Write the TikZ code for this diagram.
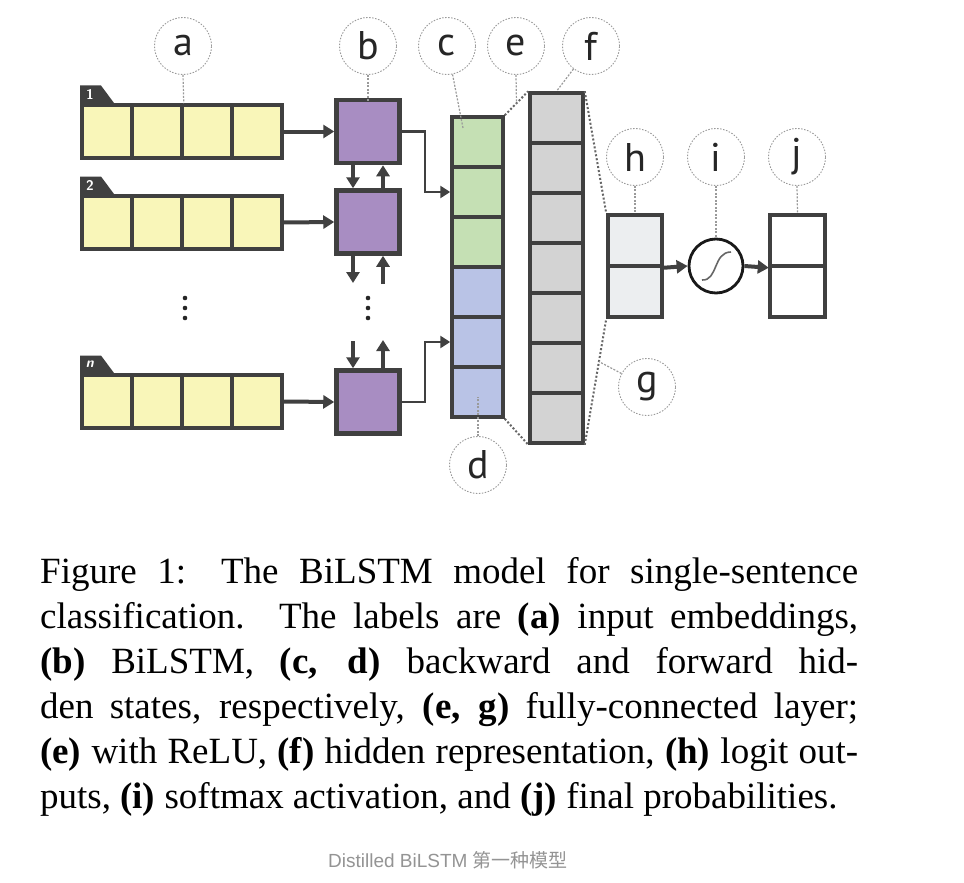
\documentclass[tikz,border=0pt]{standalone}
\usepackage{fontspec}
\setmainfont{Liberation Serif}
\newfontfamily\labelfont{PT Sans}
\newfontfamily\cjkfont{Noto Sans CJK SC}
\newfontfamily\srcfont{Liberation Sans}
\usetikzlibrary{arrows.meta,calc}
\definecolor{dk}{HTML}{404040}
\definecolor{yel}{HTML}{F9F6B9}
\definecolor{pur}{HTML}{A88DC2}
\definecolor{grn}{HTML}{C5E0B4}
\definecolor{blu}{HTML}{B9C3E6}
\definecolor{gry}{HTML}{D3D3D3}
\definecolor{lgry}{HTML}{ECEEF0}
\definecolor{lead}{HTML}{9A9A9A}
\tikzset{
  cell/.style={draw=dk, line width=3.5pt, inner sep=0pt},
  ycell/.style={cell, fill=yel, minimum width=50pt, minimum height=53pt},
  lstm/.style={cell, fill=pur, line width=4.5pt, minimum width=63pt, minimum height=63pt},
  ccell/.style={cell, minimum width=51pt, minimum height=50pt},
  fcell/.style={cell, fill=gry, minimum width=53pt, minimum height=50pt},
  hcell/.style={cell, minimum width=54pt, minimum height=51pt},
  arr/.style={draw=dk, line width=4pt, -{Triangle[length=11pt,width=13pt]}},
  thinarr/.style={draw=dk, line width=2.5pt, -{Triangle[length=10pt,width=12pt]}},
  fc/.style={draw=dk!80, line width=2pt, dotted},
  lbl/.style={circle, draw=lead, dashed, dash pattern=on 1.5pt off 1.5pt, line width=0.9pt,
    minimum size=57pt, inner sep=0pt, font=\labelfont\fontsize{40}{40}\selectfont, text=black!85},
  leader/.style={draw=lead, line width=1.2pt, dash pattern=on 2pt off 1.5pt},
  tabtxt/.style={text=white, font=\sffamily\bfseries\fontsize{14}{14}\selectfont, inner sep=0pt},
  capline/.style={anchor=base west, inner sep=0pt, font=\fontsize{37}{45}\selectfont}
}
\begin{document}
\begin{tikzpicture}[x=1pt,y=-1pt]
\useasboundingbox[fill=white] (0,0) rectangle (964,883);

% input embeddings
\foreach \r/\y/\t in {1/131.5/{1}, 2/222.5/{2}, n/401.5/{\textit{n}}}{
  \fill[dk] (80,\y-28.5) -- (80,\y-46) -- (101,\y-46) -- (114,\y-28.5) -- cycle;
  \node[tabtxt] (tab\r) at (90,\y-37.5) {\t};
  \foreach \i/\x in {1/107,2/157,3/207,4/257}{
    \node[ycell] (r\r c\i) at (\x,\y) {};
  }
  \draw[dk, line width=4.5pt] (82,\y-26.5) rectangle (282,\y+26.5);
}

% BiLSTM cells
\node[lstm] (b1) at (368,131.5) {};
\node[lstm] (b2) at (368,222) {};
\node[lstm] (bn) at (368,402) {};

\draw[arr] (r1c4.east) -- (b1.west);
\draw[arr] (r2c4.east) -- (b2.west);
\draw[arr] (rnc4.east) -- (bn.west);

\draw[arr] ([xshift=-15pt]b1.south) -- ([xshift=-15pt]b2.north);
\draw[arr] ([xshift=15pt]b2.north) -- ([xshift=15pt]b1.south);
\coordinate (d2) at (353,283);
\coordinate (u2) at (383,284);
\draw[arr] ([xshift=-15pt]b2.south) -- (d2);
\draw[arr] (u2) -- ([xshift=15pt]b2.south);
\coordinate (dn) at (353,341);
\coordinate (un) at (383,340);
\draw[arr] (dn) -- ([xshift=-15pt]bn.north);
\draw[arr] ([xshift=15pt]bn.north) -- (un);

% vertical dots
\foreach \x in {185,368}{
  \foreach \yy in {298,308,318}{
    \fill[black!85] (\x,\yy) circle (2.3pt);
  }
}

% hidden states column
\foreach \i/\y/\c in {1/142/grn,2/192/grn,3/242/grn,4/292/blu,5/342/blu,6/392/blu}{
  \node[ccell, fill=\c] (c\i) at (477.5,\y) {};
}
\draw[dk, line width=4.5pt] (452,117) rectangle (503,417);

\draw[thinarr] (b1.east) -- ++(23,0) |- (c2.west);
\draw[thinarr] (bn.east) -- ++(23,0) |- (c5.west);

% hidden representation column
\foreach \i/\y in {1/118,2/168,3/218,4/268,5/318,6/368,7/418}{
  \node[fcell] (f\i) at (556.5,\y) {};
}
\draw[dk, line width=4.5pt] (530,93) rectangle (583,443);

% logits
\node[hcell, fill=lgry] (h1) at (635,240.5) {};
\node[hcell, fill=lgry] (h2) at (635,291.5) {};
\draw[dk, line width=4.5pt] (608,215) rectangle (662,317);

% softmax
\node[circle, draw=black!90, line width=2.8pt, minimum size=54pt, inner sep=0pt, fill=white] (sig) at (716,266) {};
\draw[black!60, line width=1.6pt] (702,280) .. controls (718,281) and (713,252) .. (731,252);

% probabilities
\node[hcell, fill=white] (j1) at (797.5,240.5) {};
\node[hcell, fill=white] (j2) at (797.5,291.5) {};
\draw[dk, line width=4.5pt] (770,215) rectangle (825,317);

\draw[arr] (h1.south east) -- (sig.west);
\draw[arr] (sig.east) -- (j1.south west);

% fully connected dotted lines
\draw[fc] (c1.north east) -- (f1.north west) coordinate[pos=0.5] (etgt);
\draw[fc] (c6.south east) -- (f7.south west);
\draw[fc] (f1.north east) -- (h1.north west);
\draw[fc] (f7.south east) -- (h2.south west) coordinate[pos=0.66] (gtgt);

% labels
\node[lbl] (la) at (183,46) {a};
\node[lbl] (lb) at (368,46) {b};
\node[lbl] (lc) at (447,46) {c};
\node[lbl] (le) at (516,46) {e};
\node[lbl] (lf) at (591,46) {f};
\node[lbl] (lh) at (635,157) {h};
\node[lbl] (li) at (716,157) {i};
\node[lbl] (lj) at (797,157) {j};
\node[lbl] (lg) at (647,387) {g};
\node[lbl] (ld) at (478,465) {d};

\coordinate (ctgt) at (463,128);
\coordinate (dtgt) at (478,397);
\coordinate (btgt) at (368,101);
\draw[leader] (la.south) -- (r1c2.north east);
\draw[leader] (lb.south) -- (btgt);
\draw[leader] (lc) -- (ctgt);
\draw[leader] (le.south) -- (etgt);
\draw[leader] (lf) -- (f1.north);
\draw[leader] (lh.south) -- (h1.north);
\draw[leader] (li.south) -- (sig.north);
\draw[leader] (lj.south) -- (j1.north);
\draw[leader] (lg) -- (gtgt);
\draw[leader] (ld.north) -- (dtgt);

% caption
\node[capline] (cap1) at (40,583) {\makebox[818pt][s]{Figure 1: The BiLSTM model for single-sentence}};
\node[capline] (cap2) at (40,628) {\makebox[818pt][s]{classification. The labels are \textbf{(a)} input embeddings,}};
\node[capline] (cap3) at (40,673) {\makebox[818pt][s]{\textbf{(b)} BiLSTM, \textbf{(c, d)} backward and forward hid-}};
\node[capline] (cap4) at (40,718) {\makebox[818pt][s]{den states, respectively, \textbf{(e, g)} fully-connected layer;}};
\node[capline] (cap5) at (40,763) {\makebox[818pt][s]{\textbf{(e)} with ReLU, \textbf{(f)} hidden representation, \textbf{(h)} logit out-}};
\node[capline] (cap6) at (40,808) {puts, \textbf{(i)} softmax activation, and \textbf{(j)} final probabilities.};

\node[font=\fontsize{19}{21}\selectfont, text=black!42, inner sep=0pt] (src) at (448,860) {\srcfont Distilled BiLSTM \cjkfont 第一种模型};
\end{tikzpicture}
\end{document}
